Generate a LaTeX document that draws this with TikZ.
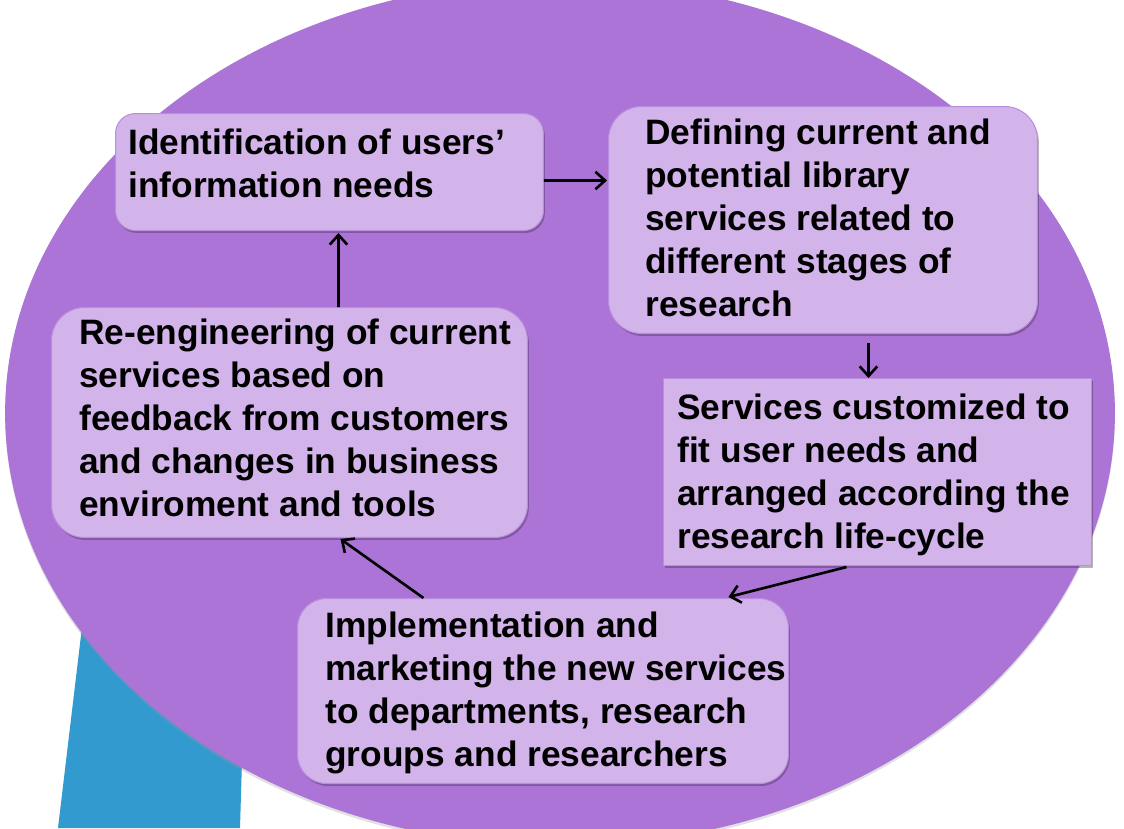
\documentclass[tikz,border=0pt]{standalone}
\usepackage{fontspec}
\setmainfont{Liberation Sans}
\usetikzlibrary{calc,shadows,arrows.meta}
\definecolor{cyclePurple}{RGB}{171,116,214}
\definecolor{boxLilac}{RGB}{211,180,234}
\definecolor{boxEdge}{RGB}{186,142,222}
\definecolor{tailBlue}{RGB}{51,154,207}
\newcommand{\boxFont}[0]{\fontsize{20.1}{24.4}\selectfont\bfseries}
\newcommand{\shadowOpacity}[0]{0.35}

\begin{document}
\begin{tikzpicture}[x=0.02cm, y=-0.02cm]
  \tikzset{stage/.style={draw=boxEdge, fill=boxLilac, line width=0.6pt, inner sep=0pt, anchor=north west,
             drop shadow={shadow xshift=0.8pt, shadow yshift=-1.4pt, opacity=\shadowOpacity, fill=black!70!cyclePurple}},
           stagetext/.style={font=\boxFont, align=left, inner sep=0pt, anchor=north west},
           cyclearrow/.style={-{Straight Barb[length=5.5pt,width=10pt]}, line width=1.5pt}}
  \useasboundingbox (0,0) rectangle (1124,828);
  \fill[tailBlue] (90,560) -- (248,560) -- (240,828) -- (58,828) -- cycle;
  \fill[cyclePurple, drop shadow={shadow xshift=0pt, shadow yshift=-1.5pt, opacity=0.3, fill=black!40}]
    (560,413) ellipse [x radius=11.1cm, y radius=8.66cm];

  % the five stages of the cycle
  \node[stage, rounded corners=0.4cm, minimum width=8.56cm, minimum height=2.34cm] (b1) at (115,113) {};
  \node[stagetext] (t1) at (128,129) {Identification of users’\\information needs};
  \node[stage, rounded corners=0.66cm, minimum width=8.58cm, minimum height=4.54cm] (b2) at (608,106) {};
  \node[stagetext] (t2) at (645,119) {Defining current and\\potential library\\services related to\\different stages of\\research};
  \node[stage, minimum width=8.56cm, minimum height=3.74cm] (b3) at (663,378) {};
  \node[stagetext] (t3) at (677,394) {Services customized to\\fit user needs and\\arranged according the\\research life-cycle};
  \node[stage, rounded corners=0.58cm, minimum width=9.82cm, minimum height=3.7cm] (b4) at (297,598) {};
  \node[stagetext] (t4) at (325,612) {Implementation and\\marketing the new services\\to departments, research\\groups and researchers};
  \node[stage, rounded corners=0.66cm, minimum width=9.52cm, minimum height=4.6cm] (b5) at (51,307) {};
  \node[stagetext] (t5) at (79,319) {Re-engineering of current\\services based on\\feedback from customers\\and changes in business\\enviroment and tools};

  \draw[cyclearrow] ($(b1.east)+(0,8.5)$) -- ($(b2.west)+(-1,-39.5)$);
  \draw[cyclearrow] ($(b2.south)+(45.5,9)$) -- ($(b3.north)+(-9,0)$);
  \draw[cyclearrow] ($(b3.south)+(-31,1)$) -- ($(b4.north)+(185.5,-1)$);
  \draw[cyclearrow] ($(b4.north)+(-119.5,0)$) -- ($(b5.south)+(51,1)$);
  \draw[cyclearrow] ($(b5.north)+(49,0)$) -- ($(b1.south)+(9,2)$);
\end{tikzpicture}
\end{document}
